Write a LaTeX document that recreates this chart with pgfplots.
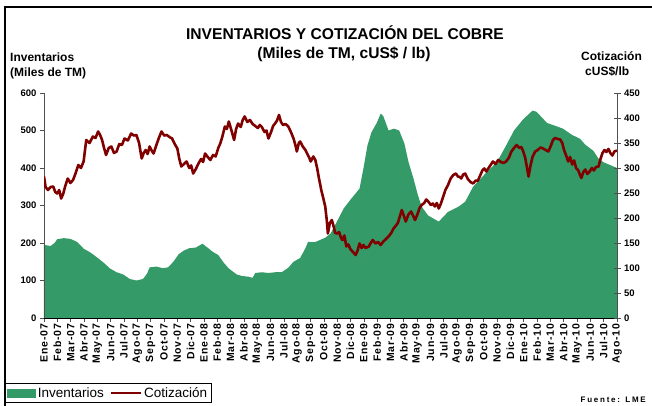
\documentclass[border=0pt]{standalone}
\usepackage{fontspec}
\setmainfont{Liberation Sans}
\usepackage{pgfplots}
\pgfplotsset{compat=1.18}
\definecolor{cInv}{RGB}{52,154,104}
\definecolor{cPrice}{RGB}{128,0,0}
\definecolor{cAxis}{RGB}{80,80,80}

\pgfplotstableread{
x y
0 195
0.5 192
0.8 200
1.0 210
1.5 213
2.0 211
2.5 203
3.0 185
3.5 175
4.0 162
4.5 148
5.0 132
5.5 122
6.0 116
6.5 104
7.0 100
7.5 104
7.8 118
8.0 135
8.5 137
9.0 133
9.4 135
9.8 150
10.2 170
10.6 180
11.0 186
11.5 188
12.0 198
12.3 190
12.8 176
13.2 168
13.6 148
14.0 132
14.6 116
15.0 112
15.5 110
15.8 107
16.0 120
16.5 122
17.0 120
17.5 122
18.0 122
18.5 134
18.9 150
19.4 160
19.8 186
20.0 203
20.5 202
20.9 208
21.3 214
21.7 225
22.2 258
22.7 292
23.2 315
23.9 345
24.2 400
24.5 460
24.8 495
25.2 520
25.5 545
25.7 538
26.1 500
26.5 505
26.9 500
27.3 465
27.6 417
28.0 370
28.3 330
28.6 297
29.1 273
29.9 257
30.6 283
31.4 297
31.9 310
32.5 350
33.5 388
34.0 405
34.5 428
35.0 460
35.6 500
36.3 530
37.0 553
37.3 550
37.7 535
38.1 520
38.6 514
39.3 505
40.0 488
40.6 478
41.0 462
41.6 446
42.0 425
42.4 415
43.4 400
}\inventarios

\pgfplotstableread{
x y
0 283
0.12 262
0.3 256
0.5 262
0.7 263
0.85 252
1.0 249
1.15 256
1.3 239
1.45 248
1.6 263
1.8 279
2.0 270
2.2 276
2.4 290
2.6 306
2.8 300
3.0 313
3.2 356
3.45 350
3.7 363
3.9 360
4.1 373
4.25 366
4.4 356
4.55 340
4.7 326
4.9 340
5.1 343
5.3 330
5.5 333
5.7 348
5.9 346
6.1 359
6.35 355
6.6 369
6.8 365
7.0 366
7.2 350
7.4 319
7.55 330
7.7 336
7.85 328
8.0 343
8.15 335
8.3 329
8.5 345
8.7 360
8.9 373
9.1 365
9.3 366
9.5 362
9.7 359
9.9 348
10.1 339
10.25 318
10.4 303
10.6 308
10.8 313
11.0 300
11.15 305
11.3 289
11.5 298
11.7 309
11.9 318
12.05 312
12.2 329
12.4 322
12.6 316
12.8 326
13.0 323
13.2 340
13.35 349
13.5 362
13.7 383
13.85 378
14.0 393
14.2 375
14.4 356
14.55 378
14.7 389
14.9 382
15.05 396
15.2 403
15.4 392
15.6 396
15.8 388
16.0 384
16.2 380
16.35 386
16.5 382
16.7 372
16.85 375
17.0 359
17.2 372
17.35 384
17.5 389
17.65 395
17.8 406
17.95 392
18.1 386
18.3 388
18.5 383
18.7 372
18.9 359
19.05 345
19.15 333
19.3 350
19.4 353
19.6 343
19.8 336
19.95 328
20.1 320
20.2 313
20.4 323
20.55 316
20.7 298
20.8 283
21.0 256
21.15 240
21.3 223
21.42 195
21.5 169
21.65 190
21.8 196
21.95 182
22.05 170
22.2 169
22.35 172
22.5 160
22.6 156
22.75 165
22.9 143
23.05 147
23.2 138
23.4 132
23.6 126
23.75 135
23.9 149
24.05 140
24.2 146
24.35 140
24.6 143
24.75 150
24.9 156
25.1 149
25.3 152
25.5 146
25.7 153
25.9 158
26.1 163
26.3 170
26.45 178
26.6 183
26.8 190
26.95 203
27.1 216
27.25 205
27.4 193
27.6 207
27.8 213
27.95 205
28.1 196
28.25 205
28.45 220
28.6 226
28.8 230
28.95 237
29.1 233
29.3 226
29.45 229
29.6 223
29.75 230
29.9 219
30.05 228
30.2 240
30.4 256
30.6 266
30.8 279
31.0 286
31.2 289
31.35 283
31.5 282
31.6 279
31.75 287
31.9 289
32.1 278
32.3 272
32.5 269
32.7 275
32.85 274
33.0 283
33.2 295
33.35 299
33.5 293
33.7 301
34.0 313
34.2 308
34.4 316
34.6 312
34.8 310
35.0 313
35.2 320
35.4 333
35.6 340
35.8 346
36.0 340
36.15 342
36.3 333
36.45 320
36.6 298
36.7 283
36.85 305
37.0 322
37.2 333
37.4 336
37.6 341
37.8 339
38.0 336
38.2 333
38.4 345
38.55 356
38.7 360
38.9 358
39.1 357
39.25 350
39.4 335
39.55 325
39.7 313
39.85 322
40.0 307
40.15 315
40.3 300
40.45 296
40.6 286
40.7 280
40.85 292
41.0 297
41.15 288
41.3 292
41.5 300
41.65 295
41.8 302
42.0 303
42.15 318
42.3 330
42.45 336
42.6 332
42.75 338
42.9 330
43.05 325
43.2 333
43.4 335
}\cotizacion

\pgfplotsset{
  cobrebase/.style={
    scale only axis,
    width=573pt, height=225pt,
    at={(44pt,88pt)}, anchor=south west,
    xmin=0, xmax=43.4,
    /pgf/number format/assume math mode=true,
    tick label style={font=\fontsize{9.5}{10}\selectfont\bfseries},
  },
}

\begin{document}
\begin{tikzpicture}[x=1pt,y=1pt]
\useasboundingbox (0,0) rectangle (652,406);
\draw[line width=1.2pt] (5,0) -- (5,399) -- (652,399);

% eje izquierdo: inventarios
\begin{axis}[
  cobrebase,
  ymin=0, ymax=600,
  ytick={0,100,...,600},
  axis x line*=bottom, axis y line*=left,
  axis line style={cAxis, line width=0.8pt},
  x axis line style={black},
  tick align=outside,
  major tick length=4pt,
  tick style={cAxis, line width=0.6pt},
  xtick={0,1.009,2.019,3.028,4.037,5.047,6.056,7.065,8.074,9.084,10.093,11.102,12.112,13.121,14.130,15.140,16.149,17.158,18.167,19.177,20.186,21.195,22.205,23.214,24.223,25.233,26.242,27.251,28.260,29.270,30.279,31.288,32.298,33.307,34.316,35.326,36.335,37.344,38.353,39.363,40.372,41.381,42.391,43.400},
  xticklabels={Ene-07,Feb-07,Mar-07,Abr-07,May-07,Jun-07,Jul-07,Ago-07,Sep-07,Oct-07,Nov-07,Dic-07,Ene-08,Feb-08,Mar-08,Abr-08,May-08,Jun-08,Jul-08,Ago-08,Sep-08,Oct-08,Nov-08,Dic-08,Ene-09,Feb-09,Mar-09,Abr-09,May-09,Jun-09,Jul-09,Ago-09,Sep-09,Oct-09,Nov-09,Dic-09,Ene-10,Feb-10,Mar-10,Abr-10,May-10,Jun-10,Jul-10,Ago-10},
  x tick label style={rotate=90, anchor=east, inner sep=1.5pt,
    font=\fontsize{10.5}{11}\selectfont\bfseries\addfontfeatures{LetterSpace=8}},
  axis on top,
]
\addplot[fill=cInv, draw=none] table[x=x, y=y] {\inventarios} \closedcycle;
\end{axis}

% eje derecho: cotizacion
\begin{axis}[
  cobrebase,
  ymin=0, ymax=450,
  ytick={0,50,...,450},
  axis x line=none, axis y line*=right,
  xtick=\empty,
  axis line style={cAxis, line width=0.8pt},
  tick align=center,
  major tick length=7pt,
  tick style={cAxis, line width=0.6pt},
  legend style={at={(-0.0681,-0.3791)}, anchor=south west, draw=black,
    line width=0.8pt, font=\fontsize{13.5}{15}\selectfont, legend columns=2,
    inner sep=2pt, legend cell align=left,
    /tikz/every even column/.append style={column sep=4pt}},
]
\addlegendimage{legend image code/.code={\fill[cInv] (0pt,-3.8pt) rectangle (27.6pt,3.8pt);}}
\addlegendentry{Inventarios}
\addplot[cPrice, line width=2.6pt, line join=round,
  legend image code/.code={\draw[cPrice, line width=2.4pt] (0pt,0pt) -- (30pt,0pt);}]
  table[x=x, y=y] {\cotizacion};
\addlegendentry{Cotización}
\end{axis}

\node[font=\fontsize{15.6}{18}\selectfont\bfseries] at (345,373) {INVENTARIOS Y COTIZACIÓN DEL COBRE};
\node[font=\fontsize{15.6}{18}\selectfont\bfseries] at (344,352) {(Miles de TM, cUS\$ / lb)};
\node[anchor=west, inner sep=0pt, font=\fontsize{12}{14}\selectfont\bfseries] at (10,349) {Inventarios};
\node[anchor=west, inner sep=0pt, font=\fontsize{12}{14}\selectfont\bfseries] at (10,333) {(Miles de TM)};
\node[anchor=west, inner sep=0pt, font=\fontsize{12}{14}\selectfont\bfseries] at (581,350) {Cotización};
\node[anchor=west, inner sep=0pt, font=\fontsize{12}{14}\selectfont\bfseries] at (585,335) {cUS\$/lb};
\node[anchor=base east, inner sep=0pt, font=\fontsize{8}{9}\selectfont\bfseries\addfontfeatures{LetterSpace=22}] at (646,3) {Fuente: LME};
\end{tikzpicture}
\end{document}
